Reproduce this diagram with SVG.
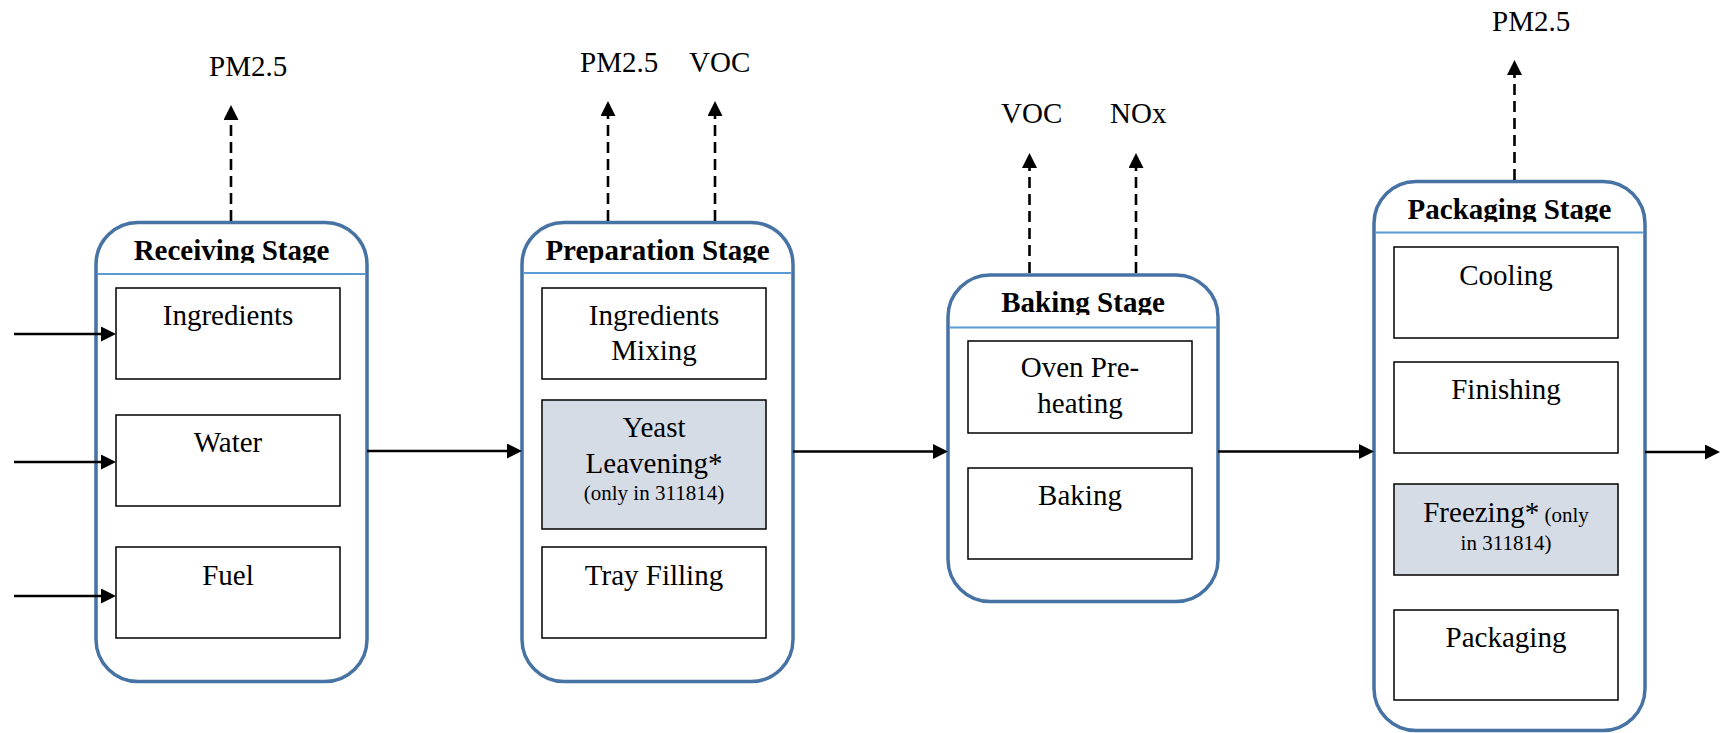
<svg xmlns="http://www.w3.org/2000/svg" width="1723" height="733" viewBox="0 0 1723 733">
  <style>
    .stage { fill: #ffffff; stroke: #4672a4; stroke-width: 3.5; }
    .divider { stroke: #5b9bd5; stroke-width: 2.2; }
    .step { fill: #ffffff; stroke: #000000; stroke-width: 1.5; }
    .opt { fill: #d6dce5; stroke: #000000; stroke-width: 1.5; }
    .title { font-family: "Liberation Serif", "Times New Roman", serif; font-weight: bold; font-size: 29px; fill: #000; text-anchor: middle; }
    .lbl { font-family: "Liberation Serif", "Times New Roman", serif; font-size: 29px; fill: #000; text-anchor: middle; }
    .small { font-size: 21px; }
    .emis { font-family: "Liberation Serif", "Times New Roman", serif; font-size: 29px; fill: #000; }
    .flow { stroke: #000; stroke-width: 2.6; fill: none; marker-end: url(#arrow); }
    .vent { stroke: #000; stroke-width: 2.6; fill: none; stroke-dasharray: 11 6; marker-end: url(#arrow); }
  </style>
  <defs>
    <marker id="arrow" viewBox="0 0 15 15" refX="5" refY="7.5" markerWidth="15" markerHeight="15" markerUnits="userSpaceOnUse" orient="auto">
      <path d="M0,0 L15,7.5 L0,15 Z" fill="#000"/>
    </marker>
    <!-- header captions are cut off just below their baseline -->
    <clipPath id="clipRecv"><rect x="96" y="222" width="271" height="41"/></clipPath>
    <clipPath id="clipPrep"><rect x="522" y="222" width="271" height="41"/></clipPath>
    <clipPath id="clipBake"><rect x="948" y="275" width="270" height="40"/></clipPath>
    <clipPath id="clipPack"><rect x="1374" y="181" width="271" height="41"/></clipPath>
  </defs>

  <!-- Receiving stage -->
  <g id="receiving">
    <rect class="stage" x="96" y="222.5" width="271" height="459" rx="42" ry="42"/>
    <line class="divider" x1="97.5" y1="274" x2="365.5" y2="274"/>
    <text class="title" x="231.5" y="260" clip-path="url(#clipRecv)">Receiving Stage</text>
    <rect class="step" x="116" y="288" width="224" height="91"/>
    <text class="lbl" x="228" y="325">Ingredients</text>
    <rect class="step" x="116" y="415" width="224" height="91"/>
    <text class="lbl" x="228" y="452">Water</text>
    <rect class="step" x="116" y="547" width="224" height="91"/>
    <text class="lbl" x="228" y="585">Fuel</text>
  </g>

  <!-- Preparation stage -->
  <g id="preparation">
    <rect class="stage" x="522" y="222.5" width="271" height="459" rx="42" ry="42"/>
    <line class="divider" x1="523.5" y1="273" x2="791.5" y2="273"/>
    <text class="title" x="657.5" y="260" clip-path="url(#clipPrep)">Preparation Stage</text>
    <rect class="step" x="542" y="288" width="224" height="91"/>
    <text class="lbl" x="654" y="325">Ingredients</text>
    <text class="lbl" x="654" y="360">Mixing</text>
    <rect class="opt" x="542" y="400" width="224" height="129"/>
    <text class="lbl" x="654" y="437">Yeast</text>
    <text class="lbl" x="654" y="473">Leavening*</text>
    <text class="lbl small" x="654" y="500">(only in 311814)</text>
    <rect class="step" x="542" y="547" width="224" height="91"/>
    <text class="lbl" x="654" y="585">Tray Filling</text>
  </g>

  <!-- Baking stage -->
  <g id="baking">
    <rect class="stage" x="948" y="275" width="270" height="326.5" rx="42" ry="42"/>
    <line class="divider" x1="949.5" y1="327.5" x2="1216.5" y2="327.5"/>
    <text class="title" x="1083" y="312" clip-path="url(#clipBake)">Baking Stage</text>
    <rect class="step" x="968" y="341" width="224" height="92"/>
    <text class="lbl" x="1080" y="377">Oven Pre-</text>
    <text class="lbl" x="1080" y="413">heating</text>
    <rect class="step" x="968" y="468" width="224" height="91"/>
    <text class="lbl" x="1080" y="505">Baking</text>
  </g>

  <!-- Packaging stage -->
  <g id="packaging">
    <rect class="stage" x="1374" y="181.5" width="271" height="549" rx="42" ry="42"/>
    <line class="divider" x1="1375.5" y1="232.5" x2="1643.5" y2="232.5"/>
    <text class="title" x="1509.5" y="219" clip-path="url(#clipPack)">Packaging Stage</text>
    <rect class="step" x="1394" y="247" width="224" height="91"/>
    <text class="lbl" x="1506" y="285">Cooling</text>
    <rect class="step" x="1394" y="362" width="224" height="91"/>
    <text class="lbl" x="1506" y="399">Finishing</text>
    <rect class="opt" x="1394" y="484" width="224" height="91"/>
    <text class="lbl" x="1506" y="521.5">Freezing*<tspan class="small"> (only</tspan></text>
    <text class="lbl small" x="1506" y="550">in 311814)</text>
    <rect class="step" x="1394" y="610" width="224" height="90"/>
    <text class="lbl" x="1506" y="646.5">Packaging</text>
  </g>

  <!-- Emission labels -->
  <g id="emissions">
    <text class="emis" x="209" y="76">PM2.5</text>
    <text class="emis" x="580" y="72">PM2.5</text>
    <text class="emis" x="689" y="72">VOC</text>
    <text class="emis" x="1001" y="123">VOC</text>
    <text class="emis" x="1110" y="123">NOx</text>
    <text class="emis" x="1492" y="31">PM2.5</text>
  </g>

  <!-- Connectors -->
  <g id="connectors">
    <!-- inputs -->
    <line class="flow" x1="14" y1="334" x2="106" y2="334"/>
    <line class="flow" x1="14" y1="462" x2="106" y2="462"/>
    <line class="flow" x1="14" y1="596" x2="106" y2="596"/>
    <!-- stage to stage -->
    <line class="flow" x1="367" y1="451" x2="512" y2="451"/>
    <line class="flow" x1="793" y1="451.5" x2="938" y2="451.5"/>
    <line class="flow" x1="1218" y1="451.5" x2="1364" y2="451.5"/>
    <!-- output -->
    <line class="flow" x1="1645" y1="452" x2="1710" y2="452"/>
    <!-- emissions -->
    <line class="vent" x1="231" y1="221" x2="231" y2="115"/>
    <line class="vent" x1="608" y1="221" x2="608" y2="111"/>
    <line class="vent" x1="715" y1="221" x2="715" y2="111"/>
    <line class="vent" x1="1029.5" y1="273" x2="1029.5" y2="163"/>
    <line class="vent" x1="1136" y1="273" x2="1136" y2="163"/>
    <line class="vent" x1="1514.5" y1="180" x2="1514.5" y2="70"/>
  </g>
</svg>
